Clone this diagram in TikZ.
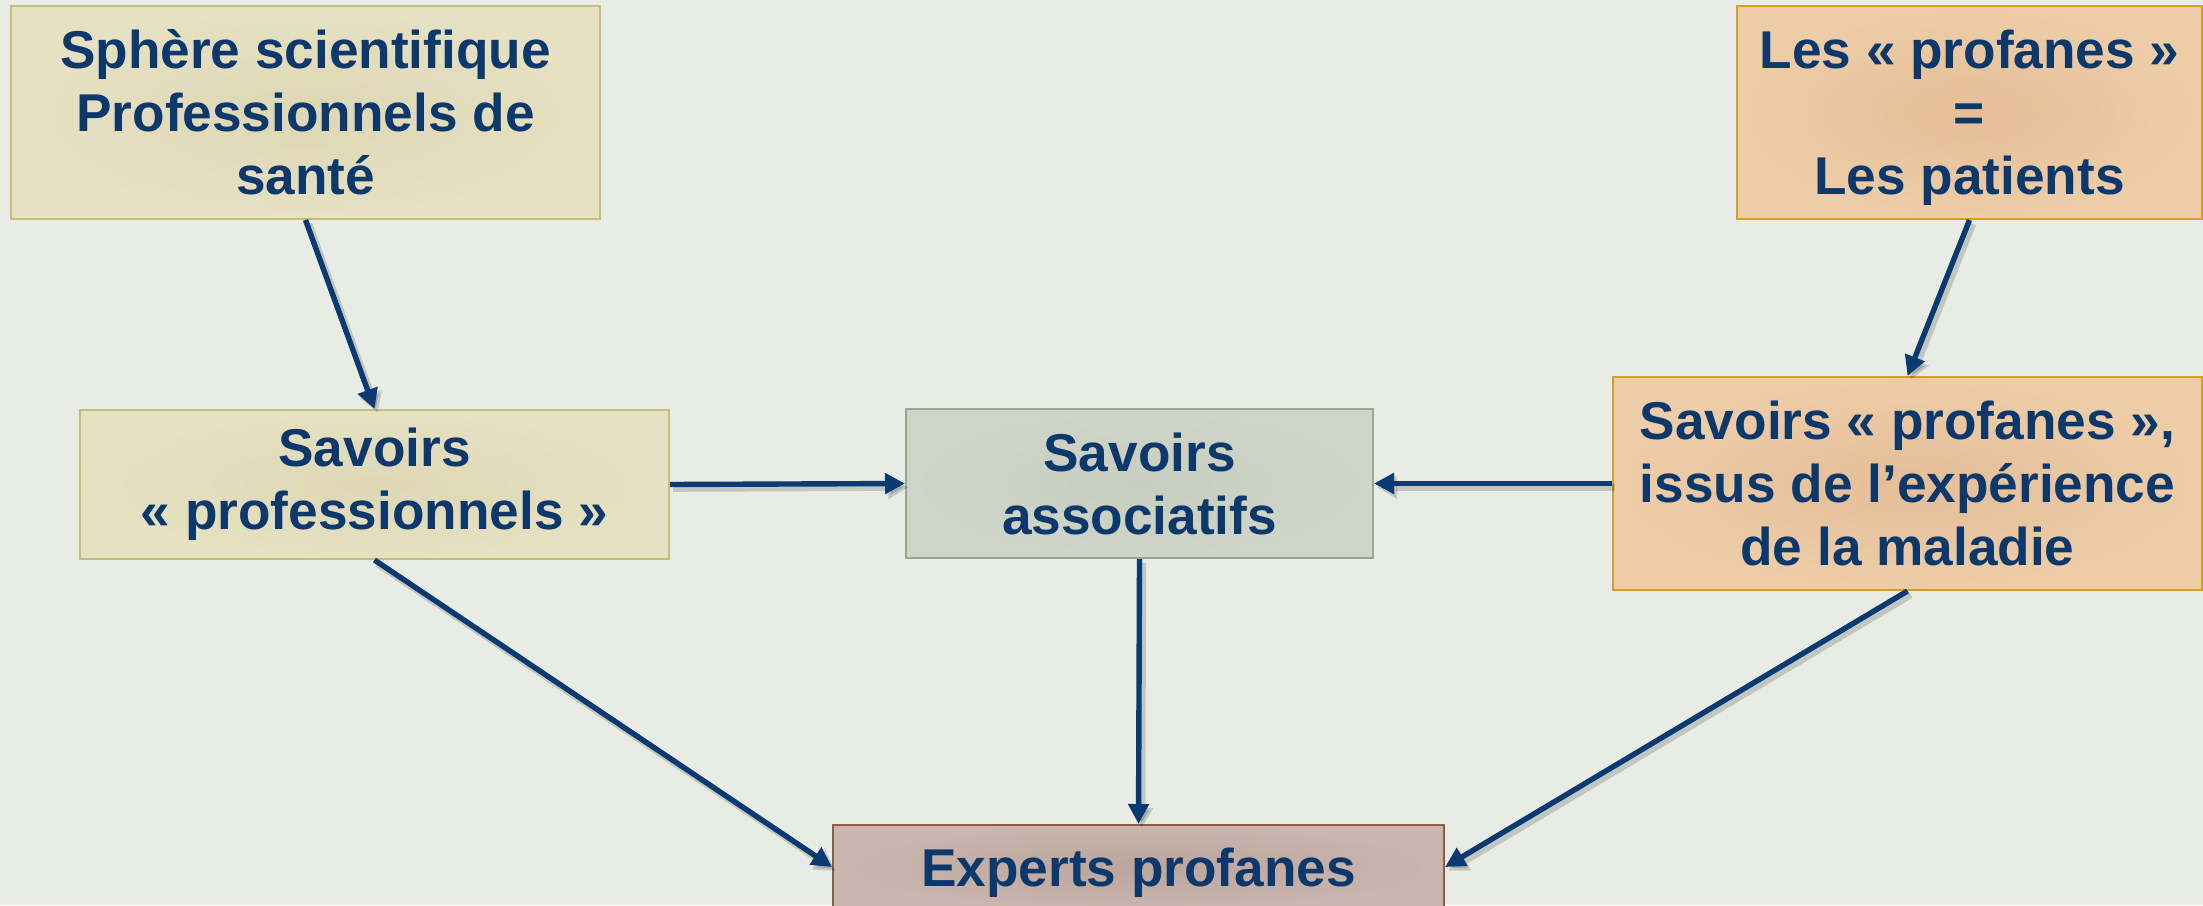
\documentclass[tikz,border=0pt]{standalone}
\usepackage{fontspec}
\setmainfont{Liberation Sans}
\usetikzlibrary{arrows.meta}
\definecolor{bg}{HTML}{E9EBE5}
\definecolor{txt}{HTML}{0D386C}
\definecolor{arr}{HTML}{0A3A72}
\definecolor{yelin}{HTML}{DDD7B5}
\definecolor{yelout}{HTML}{E6E1C2}
\definecolor{yelbd}{HTML}{C6BD7C}
\definecolor{orin}{HTML}{E4BE97}
\definecolor{orout}{HTML}{EDCDA8}
\definecolor{orbd}{HTML}{D39E2A}
\definecolor{grin}{HTML}{C7CEBF}
\definecolor{grout}{HTML}{CFD5C8}
\definecolor{grbd}{HTML}{9AA78C}
\definecolor{brin}{HTML}{BBA49B}
\definecolor{brout}{HTML}{C9B6AE}
\definecolor{brbd}{HTML}{8E5B45}
\tikzset{
  box/.style={draw, line width=1pt, align=center, inner sep=0pt,
    font=\fontsize{26.6}{31.5}\selectfont\bfseries, text=txt, shading=radial},
  yelbox/.style={box, draw=yelbd, inner color=yelin, outer color=yelout},
  orbox/.style={box, draw=orbd, inner color=orin, outer color=orout},
  grbox/.style={box, draw=grbd, inner color=grin, outer color=grout},
  brbox/.style={box, draw=brbd, inner color=brin, outer color=brout},
  conn/.style={draw=arr, line width=2.7pt, -{Triangle[length=10pt,width=10pt]}},
  shad/.style={draw=black, opacity=0.16, line width=3.5pt, -{Triangle[length=10pt,width=11pt]}, transform canvas={shift={(1.6pt,-1.9pt)}}}
}
\begin{document}
\begin{tikzpicture}[x=0.5pt,y=-0.5pt]
\fill[bg] (0,0) rectangle (2203,905);
\useasboundingbox (0,0) rectangle (2203,905);
\node[yelbox, minimum width=294.5pt, minimum height=106.5pt] (b1) at (305.5,112.5) {Sphère scientifique\\Professionnels de\\santé};
\node[orbox, minimum width=232.5pt, minimum height=106.5pt] (b2) at (1969.5,112.5) {Les « profanes »\\=\\\raisebox{0pt}[\height][0pt]{Les patients}};
\node[yelbox, minimum width=294.5pt, minimum height=74.5pt] (b3) at (374.5,484.5) {Savoirs\\« professionnels »};
\node[grbox, minimum width=233.5pt, minimum height=74.5pt] (b4) at (1139.5,483.5) {Savoirs\\associatifs};
\node[orbox, minimum width=294.5pt, minimum height=106.5pt] (b5) at (1907.5,483.5) {Savoirs « profanes »,\\issus de l’expérience\\de la maladie};
\node[brbox, minimum width=305.5pt, minimum height=42pt] (b6) at (1138.5,867) {};
\node[font=\fontsize{26.6}{31.5}\selectfont\bfseries, text=txt, inner sep=0pt] (t6) at (1138.5,873) {Experts profanes};
\foreach \a/\b in {b1.south/b3.north, b2.south/b5.north, b3.east/b4.west, b5.west/b4.east, b3.south/b6.west, b4.south/b6.north, b5.south/b6.east}{
  \path[shad] (\a) -- (\b);
}
\draw[conn] (b1.south) -- (b3.north);
\draw[conn] (b2.south) -- (b5.north);
\draw[conn] (b3.east) -- (b4.west);
\draw[conn] (b5.west) -- (b4.east);
\draw[conn] (b3.south) -- (b6.west);
\draw[conn] (b4.south) -- (b6.north);
\draw[conn] (b5.south) -- (b6.east);
\end{tikzpicture}
\end{document}
